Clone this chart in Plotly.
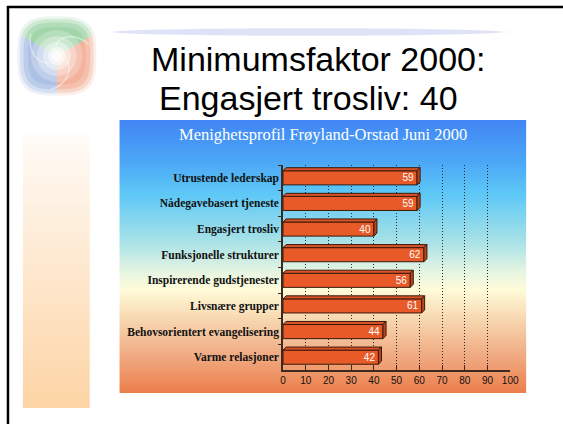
import math
import plotly.graph_objects as go

# ---------------- data ----------------
categories = [
    "Utrustende lederskap",
    "Nådegavebasert tjeneste",
    "Engasjert trosliv",
    "Funksjonelle strukturer",
    "Inspirerende gudstjenester",
    "Livsnære grupper",
    "Behovsorientert evangelisering",
    "Varme relasjoner",
]
values = [59, 59, 40, 62, 56, 61, 44, 42]
x_ticks = [0, 10, 20, 30, 40, 50, 60, 70, 80, 90, 100]

slide_title_1 = "Minimumsfaktor 2000:"
slide_title_2 = "Engasjert trosliv: 40"
chart_title = "Menighetsprofil Frøyland-Orstad Juni 2000"

W, H = 563, 424          # design space (reference pixels)
FIG_W = 573              # layout width


def X(px):
    return px / W


def Y(py):
    return 1 - py / H


def hex2rgb(h):
    h = h.lstrip("#")
    return tuple(int(h[i:i + 2], 16) for i in (0, 2, 4))


def interp(stops, t):
    for (t0, c0), (t1, c1) in zip(stops[:-1], stops[1:]):
        if t0 <= t <= t1:
            f = 0 if t1 == t0 else (t - t0) / (t1 - t0)
            a, b = hex2rgb(c0), hex2rgb(c1)
            return "rgb(%d,%d,%d)" % tuple(round(a[i] + (b[i] - a[i]) * f) for i in range(3))
    return stops[-1][1]


def path_from(points, close=True):
    s = "M " + " L ".join("%.5f,%.5f" % (X(px), Y(py)) for px, py in points)
    return s + (" Z" if close else "")


shapes = []

# slide frame (left and top black edges)
shapes.append(dict(type="line", xref="paper", yref="paper", x0=X(5), x1=X(5), y0=Y(6), y1=0,
                   line=dict(color="black", width=2.5), layer="below"))
shapes.append(dict(type="line", xref="paper", yref="paper", x0=X(4), x1=1, y0=Y(7), y1=Y(7),
                   line=dict(color="black", width=2.5), layer="below"))

# faint header band
band = []
for i in range(41):
    px = 108 + (522 - 108) * i / 40
    t = i / 40
    hw = 3.8 * math.sin(math.pi * min(1, t * 1.05)) ** 0.5
    band.append((px, 32 - hw))
for i in range(40, -1, -1):
    px = 108 + (522 - 108) * i / 40
    t = i / 40
    hw = 3.8 * math.sin(math.pi * min(1, t * 1.05)) ** 0.5
    band.append((px, 32 + hw))
shapes.append(dict(type="path", xref="paper", yref="paper", path=path_from(band),
                   fillcolor="rgb(214,216,246)", opacity=0.75, line=dict(width=0), layer="below"))

# left decorative strip gradient
strip_stops = [(0, "#FFFBF7"), (1, "#FDD4A5")]
y_a, y_b, step = 135, 408, 3
n = int((y_b - y_a) / step)
for i in range(n):
    y0 = y_a + i * step
    y1 = min(y_b, y0 + step + 0.6)
    shapes.append(dict(type="rect", xref="paper", yref="paper", x0=X(20), x1=X(87), y0=Y(y0), y1=Y(y1),
                       fillcolor=interp(strip_stops, (i + 0.5) / n), line=dict(width=0), layer="below"))

# chart panel gradient
panel_stops = [(120, "#4185F4"), (160, "#4BA6F6"), (195, "#5EC8F6"), (240, "#A5E1E8"),
               (270, "#E2F4E2"), (290, "#FFFBD9"), (320, "#F7D6AF"), (352, "#F1AF87"), (393, "#EC7E4B")]
y_a, y_b, step = 120, 393, 3
n = int(math.ceil((y_b - y_a) / step))
for i in range(n):
    y0 = y_a + i * step
    y1 = min(y_b, y0 + step + 0.6)
    shapes.append(dict(type="rect", xref="paper", yref="paper", x0=X(117), x1=X(525), y0=Y(y0), y1=Y(y1),
                       fillcolor=interp(panel_stops, y0 + step / 2), line=dict(width=0), layer="below"))

# logo: three soft sectors in a rounded square, white glowing centre and swirls
cx, cy, a_r, ne = 54, 56, 38, 3.2


def se_point(theta, scale):
    c, s = math.cos(theta), math.sin(theta)
    r = a_r * scale / (abs(c) ** ne + abs(s) ** ne) ** (1 / ne)
    return (cx + r * c, cy - r * s)


sectors = [(30, 150, "#6FBF7C"), (150, 270, "#7E9ED9"), (270, 390, "#EE8A66")]
for scale, op in [(1.04, 0.15), (0.97, 0.22), (0.88, 0.28), (0.76, 0.25)]:
    for d0, d1, col in sectors:
        pts = [(cx, cy)]
        for k in range(31):
            th = math.radians(d0 + (d1 - d0) * k / 30)
            pts.append(se_point(th, scale))
        shapes.append(dict(type="path", xref="paper", yref="paper", path=path_from(pts),
                           fillcolor=col, opacity=op, line=dict(width=0), layer="below"))
for rr, op in [(26, 0.22), (20, 0.3), (14, 0.4), (9, 0.55), (5, 0.7)]:
    shapes.append(dict(type="circle", xref="paper", yref="paper", x0=X(cx - rr), x1=X(cx + rr),
                       y0=Y(cy - rr), y1=Y(cy + rr), fillcolor="white", opacity=op,
                       line=dict(width=0), layer="below"))
for th0 in [100, 220, 340]:
    pts = []
    for k in range(25):
        t = k / 24
        r = 10 + 24 * t
        th = math.radians(th0 - 80 * t)
        pts.append((cx + r * math.cos(th), cy - r * math.sin(th)))
    shapes.append(dict(type="path", xref="paper", yref="paper", path=path_from(pts, close=False),
                       line=dict(color="white", width=1.5), opacity=0.45, layer="below"))

# 3D faces of the bars (computed from the data values in axis coordinates)
bw = 0.55
dx = 1.35   # depth in value units
dy = 0.12   # depth in category units
for i, v in enumerate(values):
    top = i - bw / 2
    bot = i + bw / 2
    shapes.append(dict(type="path", xref="x", yref="y",
                       path="M 0,%f L %f,%f L %f,%f L %f,%f Z" % (top, v, top, v + dx, top - dy, dx, top - dy),
                       fillcolor="#D9522A", line=dict(color="#3a1a0a", width=1)))
    shapes.append(dict(type="path", xref="x", yref="y",
                       path="M %f,%f L %f,%f L %f,%f L %f,%f Z" % (v, top, v + dx, top - dy, v + dx, bot - dy, v, bot),
                       fillcolor="#B9441E", line=dict(color="#3a1a0a", width=1)))

fig = go.Figure()
fig.add_trace(go.Bar(
    x=values, y=categories, orientation="h", width=bw,
    marker=dict(color="#E85A28", line=dict(color="#3a1a0a", width=1)),
    text=[str(v) for v in values], textposition="inside", insidetextanchor="end",
    textangle=0, constraintext="none",
    textfont=dict(color="white", size=10, family="Liberation Sans"),
    hoverinfo="skip",
))

annotations = [
    dict(text=slide_title_1, x=X(316), y=Y(59), xref="paper", yref="paper", showarrow=False,
         xanchor="center", yanchor="middle",
         font=dict(family="Liberation Sans", size=34, color="black")),
    dict(text=slide_title_2, x=X(307), y=Y(98), xref="paper", yref="paper", showarrow=False,
         xanchor="center", yanchor="middle",
         font=dict(family="Liberation Sans", size=34, color="black")),
    dict(text=chart_title, x=X(321), y=Y(134), xref="paper", yref="paper", showarrow=False,
         xanchor="center", yanchor="middle",
         font=dict(family="Liberation Serif", size=16.5, color="white")),
]

fig.update_layout(
    width=FIG_W, height=H, autosize=False,
    margin=dict(l=0, r=0, t=0, b=0),
    paper_bgcolor="white",
    plot_bgcolor="rgba(0,0,0,0)",
    showlegend=False,
    shapes=shapes,
    annotations=annotations,
    xaxis=dict(
        domain=[X(281), X(509)], range=[0, 100], tickvals=x_ticks,
        showgrid=True, gridcolor="#2a2a2a", griddash="1px,2px", gridwidth=1,
        zeroline=False, showline=True, linecolor="#3a2a20", linewidth=1.5,
        ticks="inside", ticklen=5, tickcolor="#3a2a20",
        tickfont=dict(family="Liberation Sans", size=10, color="#111"),
        fixedrange=True,
    ),
    yaxis=dict(
        domain=[Y(370), Y(165)], type="category",
        categoryorder="array", categoryarray=categories, autorange="reversed",
        showgrid=False, zeroline=False, showline=True, linecolor="#3a2a20", linewidth=1.5,
        ticks="outside", ticklen=3, tickcolor="#3a2a20", tickson="boundaries",
        tickfont=dict(family="Liberation Serif", size=11.5, color="#111", weight="bold"),
        fixedrange=True,
    ),
)

fig.write_html("out.html", config={"displayModeBar": False, "responsive": False},
               post_script="document.body.style.margin='0';document.body.style.overflow='hidden';")
